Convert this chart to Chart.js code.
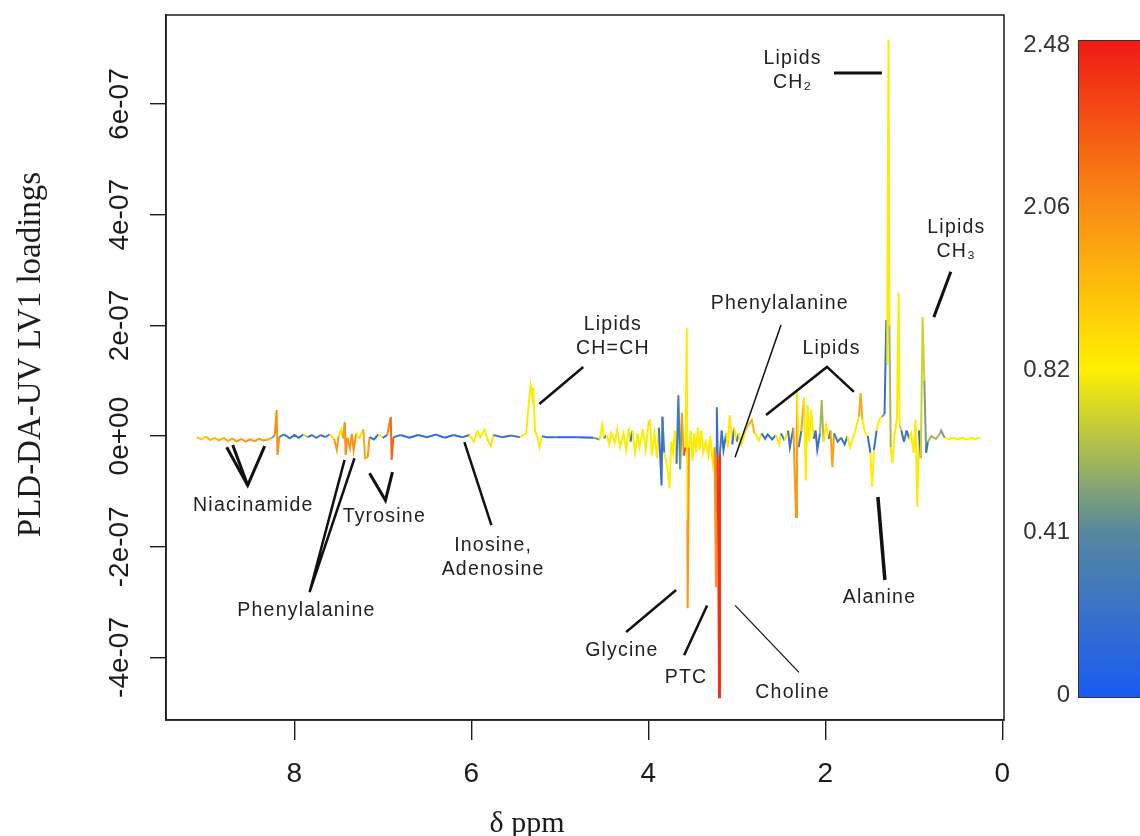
<!DOCTYPE html>
<html>
<head>
<meta charset="utf-8">
<title>PLS-DA loadings</title>
<script src="https://cdn.jsdelivr.net/npm/chart.js@4/dist/chart.umd.min.js"></script>
<style>
  html, body { margin: 0; padding: 0; background: #fff; }
  #wrap { position: relative; width: 1140px; height: 836px; }
</style>
</head>
<body>
<div id="wrap"><canvas id="loadings"></canvas></div>
<script>
// chemical shift (ppm), loading (x 1e-7) and VIP colour value, one entry per point
const ppm = [
  9.10, 9.05, 9.00, 8.95, 8.90, 8.85, 8.80, 8.75, 8.70, 8.65,
  8.60, 8.55, 8.50, 8.45, 8.40, 8.35, 8.30,
  8.25, 8.22, 8.20, 8.19, 8.17, 8.12, 8.05, 8.00, 7.95, 7.90,
  7.85, 7.80, 7.75, 7.70, 7.65, 7.60, 7.55, 7.52, 7.50, 7.47,
  7.45, 7.43, 7.42, 7.40, 7.37, 7.35, 7.33, 7.30, 7.27, 7.22,
  7.20, 7.17, 7.15, 7.10, 7.05, 7.00, 6.95, 6.91, 6.90, 6.88,
  6.80, 6.70, 6.60, 6.50, 6.40, 6.30, 6.20, 6.10, 6.02,
  5.97, 5.93, 5.90, 5.85, 5.82, 5.78, 5.75, 5.65, 5.55, 5.45,
  5.38, 5.35, 5.33, 5.31, 5.30, 5.28, 5.25, 5.23, 5.20, 5.15,
  5.05, 4.80, 4.62, 4.55, 4.52, 4.50, 4.47,
  4.44, 4.42, 4.38, 4.35, 4.32, 4.28, 4.25, 4.22, 4.20, 4.18,
  4.15, 4.12, 4.10, 4.06, 4.03, 4.00, 3.98, 3.96, 3.93, 3.90,
  3.88, 3.85, 3.84, 3.82, 3.79, 3.76, 3.74, 3.72, 3.70, 3.68,
  3.66, 3.64, 3.62, 3.60, 3.58,
  3.565, 3.558, 3.555, 3.54, 3.52, 3.50, 3.48, 3.46, 3.44, 3.42,
  3.40, 3.38, 3.35, 3.32, 3.30, 3.27, 3.25, 3.235, 3.232, 3.225,
  3.215, 3.20, 3.19, 3.17, 3.15, 3.12, 3.10, 3.08, 3.05, 3.03,
  3.00, 2.98, 2.95, 2.90, 2.87, 2.83, 2.80, 2.78, 2.75, 2.72,
  2.68, 2.65, 2.60, 2.56, 2.52, 2.50, 2.46, 2.42, 2.40, 2.36,
  2.33, 2.32, 2.30, 2.27, 2.24, 2.22, 2.20, 2.18, 2.16, 2.13,
  2.11, 2.09, 2.06, 2.04, 2.02, 1.99, 1.96, 1.94, 1.92, 1.90,
  1.86, 1.82, 1.78, 1.75, 1.72, 1.69, 1.66, 1.62, 1.60, 1.58,
  1.55, 1.52, 1.49, 1.47, 1.45, 1.42, 1.39, 1.36, 1.33, 1.31,
  1.30, 1.285, 1.275, 1.26, 1.24, 1.22, 1.19, 1.17, 1.16, 1.14,
  1.11, 1.08, 1.05, 1.03, 1.00, 0.98, 0.96, 0.94, 0.92, 0.90,
  0.88, 0.86, 0.84, 0.80, 0.75, 0.70, 0.69, 0.65, 0.60, 0.55,
  0.50, 0.45, 0.40, 0.35, 0.30, 0.25
];
const loading = [
  -0.02, -0.06, -0.01, -0.07, -0.03, -0.08, -0.03, -0.09, -0.04, -0.10,
  -0.05, -0.10, -0.06, -0.09, -0.05, -0.08, -0.06,
  -0.03, 0.02, 0.47, -0.34, -0.02, 0.03, -0.04, 0.02, -0.03, 0.03,
  -0.02, 0.02, -0.03, 0.02, -0.02, 0.03, -0.05, -0.25, 0.00, 0.12,
  -0.04, 0.25, -0.34, -0.03, -0.22, 0.04, -0.25, 0.06, -0.05, 0.12,
  -0.40, -0.38, -0.02, -0.06, 0.03, -0.03, 0.02, 0.34, -0.43, -0.02,
  0.02, -0.03, 0.02, -0.02, 0.03, -0.03, 0.02, -0.02, 0.02,
  -0.10, 0.10, -0.02, 0.12, -0.05, -0.18, 0.02, -0.02, 0.01, -0.02,
  0.05, 0.60, 0.92, 0.70, 0.88, 0.10, -0.03, -0.20, 0.00, -0.02,
  -0.02, -0.02, -0.03, -0.06, 0.20, -0.04, 0.02,
  -0.15, 0.08, -0.12, 0.12, -0.20, 0.05, -0.25, 0.15, -0.10, 0.10,
  -0.30, 0.05, -0.20, 0.12, -0.25, 0.20, 0.30, -0.35, 0.05, -0.40,
  0.15, -0.89, 0.35, -0.30, -0.50, -0.94, -0.10, -0.30, 0.10, -0.50,
  0.74, -0.60, 0.42, -0.35, -0.20,
  1.95, -1.52, -3.11, -0.20, 0.10, -0.45, 0.05, -0.30, 0.15, -0.25,
  0.10, -0.30, -0.10, -0.35, 0.00, -0.50, -0.20, -2.73, -0.30, 0.52,
  -0.40, -4.72, -0.30, 0.10, -0.25, 0.05, -0.20, 0.38, -0.15, 0.15,
  -0.10, 0.05, -0.15, 0.10, 0.20, 0.29, 0.05, 0.02, -0.08, 0.05,
  -0.05, 0.03, -0.06, 0.02, -0.15, 0.05, -0.08, 0.10, -0.20, 0.15,
  -1.46, 0.80, -0.20, 0.10, 0.70, -0.80, 0.56, -0.10, 0.47, -0.05,
  0.10, -0.25, 0.05, 0.65, -0.10, 0.20, -0.05, 0.10, -0.56, 0.05,
  -0.10, -0.03, -0.15, 0.00, -0.20, -0.05, 0.10, 0.35, 0.78, 0.30,
  0.05, 0.00, -0.30, -0.92, -0.25, 0.10, 0.30, 0.35, 0.40, 2.10,
  1.30, 7.16, 2.00, -0.20, -0.49, 0.00, 0.30, 2.59, 0.20, 0.10,
  -0.10, 0.10, -0.05, 0.05, -0.30, 0.30, -1.28, 0.10, -0.40, 2.15,
  1.00, -0.30, -0.10, 0.00, -0.05, 0.05, 0.10, -0.03, -0.05, -0.03,
  -0.06, -0.03, -0.06, -0.03, -0.05, -0.03
];
const vip = [
  1.0, 1.3, 0.9, 1.5, 1.0, 1.6, 1.1, 1.7, 1.2, 1.8,
  1.4, 1.9, 1.6, 1.9, 1.7, 1.9, 1.6,
  0.5, 0.3, 2.0, 2.0, 0.4, 0.3, 0.2, 0.9, 0.2, 0.7,
  0.2, 0.9, 0.3, 0.2, 0.8, 0.3, 1.0, 1.9, 0.9, 1.0,
  1.1, 1.9, 2.0, 0.9, 1.9, 1.0, 2.0, 0.8, 0.5, 1.0,
  1.7, 1.9, 0.6, 0.2, 0.9, 0.2, 0.3, 2.1, 2.2, 0.3,
  0.2, 0.15, 0.2, 0.15, 0.2, 0.15, 0.2, 0.3, 0.15,
  0.8, 0.9, 0.4, 0.9, 0.3, 1.0, 0.3, 0.2, 0.2, 0.3,
  0.8, 0.9, 0.9, 0.9, 0.9, 0.9, 0.4, 0.9, 0.3, 0.2,
  0.15, 0.1, 0.12, 0.5, 0.9, 0.4, 0.2,
  0.8, 0.3, 0.9, 0.2, 0.9, 0.3, 0.9, 0.8, 0.2, 0.9,
  0.9, 0.2, 0.85, 0.3, 0.9, 1.1, 1.3, 0.9, 0.2, 0.9,
  0.3, 0.2, 0.3, 0.9, 0.9, 0.85, 0.3, 0.9, 0.3, 0.8,
  0.3, 0.5, 1.8, 2.3, 0.9,
  0.9, 1.9, 1.9, 0.9, 0.8, 0.9, 0.3, 0.9, 0.9, 0.85,
  0.3, 0.9, 0.85, 0.9, 0.3, 0.9, 0.8, 2.0, 2.0, 0.2,
  0.3, 2.4, 0.3, 0.2, 0.2, 0.3, 0.9, 0.9, 0.2, 0.9,
  0.3, 0.2, 0.9, 0.9, 1.1, 1.6, 0.9, 0.15, 0.9, 0.2,
  0.2, 0.9, 0.2, 0.3, 0.9, 0.2, 0.3, 0.9, 0.2, 0.8,
  1.9, 0.9, 0.3, 0.2, 1.8, 0.9, 0.9, 0.2, 0.9, 0.2,
  0.3, 0.2, 0.3, 0.6, 0.2, 0.9, 0.2, 0.3, 1.8, 0.2,
  0.3, 0.2, 0.2, 0.15, 0.9, 0.2, 0.9, 0.9, 1.7, 0.9,
  0.85, 0.9, 0.2, 0.85, 0.2, 0.9, 0.9, 0.85, 0.5, 0.2,
  0.6, 0.88, 0.6, 0.2, 0.9, 0.2, 0.9, 0.9, 0.7, 0.2,
  0.3, 0.2, 0.9, 0.2, 0.9, 0.2, 0.9, 0.2, 0.15, 0.7,
  0.5, 0.2, 0.6, 0.7, 0.6, 0.7, 0.5, 0.8, 0.9, 0.85,
  0.9, 0.85, 0.9, 0.9, 0.85, 0.9
];
const LOADING_UNIT = 1e-7;

// axes
const xTicks = [8, 6, 4, 2, 0];
const yTicks = [-4e-7, -2e-7, 0, 2e-7, 4e-7, 6e-7];
const yTickLabels = ['-4e-07', '-2e-07', '0e+00', '2e-07', '4e-07', '6e-07'];

// colour bar: breaks sit at equal steps along the bar
const vipBreaks = [0, 0.41, 0.82, 2.06, 2.48];
const vipBreakLabels = ['0', '0.41', '0.82', '2.06', '2.48'];
const barRGB = [[25, 90, 245], [85, 135, 160], [255, 240, 0], [250, 140, 20], [240, 25, 20]];

// annotations: text lines and the centre of the first line (ppm, loading x 1e-7)
const noteText = [
  ['Lipids', 'CH₂'], ['Lipids', 'CH₃'], ['Phenylalanine'], ['Lipids'], ['Lipids', 'CH=CH'],
  ['Niacinamide'], ['Tyrosine'], ['Phenylalanine'], ['Inosine,', 'Adenosine'],
  ['Glycine'], ['PTC'], ['Choline'], ['Alanine']
];
const noteAt = [
  [2.376, 6.82], [0.525, 3.76], [2.52, 2.39], [1.936, 1.59], [4.407, 2.01],
  [8.47, -1.25], [6.99, -1.45], [7.87, -3.15], [5.76, -1.97],
  [4.305, -3.87], [3.58, -4.36], [2.376, -4.63], [1.394, -2.91]
];
// pointer lines (ppm, loading x 1e-7)
const pointers = [
  [[1.901, 6.56], [1.360, 6.56]],
  [[0.581, 2.97], [0.773, 2.15]],
  [[2.500, 2.01], [3.019, -0.38]],
  [[2.669, 0.38], [1.981, 1.25], [1.676, 0.80]],
  [[4.735, 1.25], [5.231, 0.58]],
  [[8.764, -0.20], [8.527, -0.89], [8.335, -0.18]],
  [[8.696, -0.16], [8.527, -0.89]],
  [[7.432, -0.43], [7.827, -2.82], [7.32, -0.40]],
  [[7.150, -0.67], [6.970, -1.16], [6.891, -0.65]],
  [[6.078, -0.11], [5.773, -1.61]],
  [[3.685, -2.78], [4.250, -3.54]],
  [[3.335, -3.06], [3.595, -3.96]],
  [[3.019, -3.06], [2.297, -4.27]],
  [[1.405, -1.10], [1.326, -2.60]]
];
const pointerWidth = [3, 3, 1.5, 2.5, 2.5, 3, 3, 2.5, 3, 2.5, 2.5, 2.5, 1.2, 3.5];

function vipColor(v) {
  let k = 0;
  while (k < vipBreaks.length - 2 && v > vipBreaks[k + 1]) k++;
  const t = Math.min(1, Math.max(0, (v - vipBreaks[k]) / (vipBreaks[k + 1] - vipBreaks[k])));
  const a = barRGB[k], b = barRGB[k + 1];
  const c = a.map((ch, j) => Math.round(ch + (b[j] - ch) * t));
  return `rgb(${c[0]},${c[1]},${c[2]})`;
}

const INK = '#1c1c1c';

// draws the box, tick labels, titles, annotations and the colour bar
const decorations = {
  id: 'decorations',
  afterDraw(chart) {
    const { ctx, chartArea: a, scales: { x, y } } = chart;
    const px = v => x.getPixelForValue(v);
    const py = v => y.getPixelForValue(v * LOADING_UNIT);
    ctx.save();

    ctx.strokeStyle = INK;
    ctx.lineWidth = 1.5;
    ctx.strokeRect(a.left, a.top, a.right - a.left, a.bottom - a.top);

    // tick labels
    ctx.fillStyle = INK;
    ctx.font = '28px "Liberation Sans", Arial, sans-serif';
    ctx.textAlign = 'center';
    ctx.textBaseline = 'middle';
    x.ticks.forEach(t => ctx.fillText(String(t.value), px(t.value), a.bottom + 54));
    ctx.textBaseline = 'alphabetic';
    y.ticks.forEach((t, i) => {
      ctx.save();
      ctx.translate(a.left - 38, y.getPixelForValue(t.value));
      ctx.rotate(-Math.PI / 2);
      ctx.fillText(yTickLabels[i], 0, 0);
      ctx.restore();
    });

    // axis titles
    ctx.font = '33px "Liberation Serif", "Times New Roman", serif';
    ctx.save();
    ctx.translate(40, (a.top + a.bottom) / 2 - 13);
    ctx.rotate(-Math.PI / 2);
    ctx.fillText('PLD-DA-UV LV1 loadings', 0, 0);
    ctx.restore();
    ctx.font = '30px "Liberation Serif", "Times New Roman", serif';
    ctx.fillText('δ ppm', px(5.37), 832);

    // pointer lines
    ctx.strokeStyle = '#111';
    ctx.lineCap = 'butt';
    pointers.forEach((pts, i) => {
      ctx.lineWidth = pointerWidth[i];
      ctx.beginPath();
      pts.forEach(([u, v], j) => (j ? ctx.lineTo(px(u), py(v)) : ctx.moveTo(px(u), py(v))));
      ctx.stroke();
    });

    // annotation labels
    ctx.fillStyle = '#222';
    ctx.font = '19.5px "Liberation Sans", Arial, sans-serif';
    ctx.letterSpacing = '1.2px';
    ctx.textAlign = 'center';
    ctx.textBaseline = 'middle';
    noteText.forEach((lines, i) => {
      lines.forEach((s, j) => ctx.fillText(s, px(noteAt[i][0]) + 0.6, py(noteAt[i][1]) + j * 24));
    });
    ctx.letterSpacing = '0px';

    // colour bar
    const barL = a.right + 74, barR = chart.width, barT = 40, barB = 698;
    const grad = ctx.createLinearGradient(0, barB, 0, barT);
    barRGB.forEach((c, i) => grad.addColorStop(i / (barRGB.length - 1), `rgb(${c.join(',')})`));
    ctx.fillStyle = grad;
    ctx.fillRect(barL, barT, barR - barL, barB - barT);
    ctx.strokeStyle = '#333';
    ctx.lineWidth = 1;
    ctx.strokeRect(barL + 0.5, barT + 0.5, barR - barL + 2, barB - barT - 1);
    ctx.fillStyle = '#333';
    ctx.font = '24px "Liberation Sans", Arial, sans-serif';
    ctx.textAlign = 'right';
    ctx.textBaseline = 'middle';
    const step = (barB - 3 - (barT + 5)) / (vipBreakLabels.length - 1);
    vipBreakLabels.forEach((s, i) => ctx.fillText(s, barL - 8, barB - 3 - i * step));

    ctx.restore();
  }
};

new Chart(document.getElementById('loadings'), {
  type: 'line',
  data: {
    datasets: [{
      data: ppm.map((p, i) => ({ x: p, y: loading[i] * LOADING_UNIT })),
      borderWidth: 2,
      borderColor: vipColor(0.9),
      pointRadius: 0,
      tension: 0,
      segment: {
        // colour each segment by the VIP of its larger end
        borderColor: c => {
          const i = Math.abs(loading[c.p0DataIndex]) >= Math.abs(loading[c.p1DataIndex]) ? c.p0DataIndex : c.p1DataIndex;
          return vipColor(vip[i]);
        }
      }
    }]
  },
  options: {
    responsive: true,
    maintainAspectRatio: false,
    animation: false,
    devicePixelRatio: 1,
    layout: { padding: { left: 0, right: 136, top: 15, bottom: 0 } },
    plugins: { legend: { display: false }, tooltip: { enabled: false } },
    scales: {
      x: {
        type: 'linear',
        reverse: true,
        min: -0.02,
        max: 9.45,
        afterBuildTicks: s => { s.ticks = xTicks.map(v => ({ value: v })); },
        afterFit: s => { s.height = 116; },
        ticks: { display: false },
        grid: { drawOnChartArea: false, drawTicks: true, tickLength: 20, color: INK, lineWidth: 1.4 },
        border: { display: true, color: INK, width: 1.5 }
      },
      y: {
        type: 'linear',
        min: -5.13e-7,
        max: 7.61e-7,
        afterBuildTicks: s => { s.ticks = yTicks.map(v => ({ value: v })); },
        afterFit: s => { s.width = 166; },
        ticks: { display: false },
        grid: { drawOnChartArea: false, drawTicks: true, tickLength: 16, color: INK, lineWidth: 1.4 },
        border: { display: true, color: INK, width: 1.5 }
      }
    }
  },
  plugins: [decorations]
});
</script>
</body>
</html>
